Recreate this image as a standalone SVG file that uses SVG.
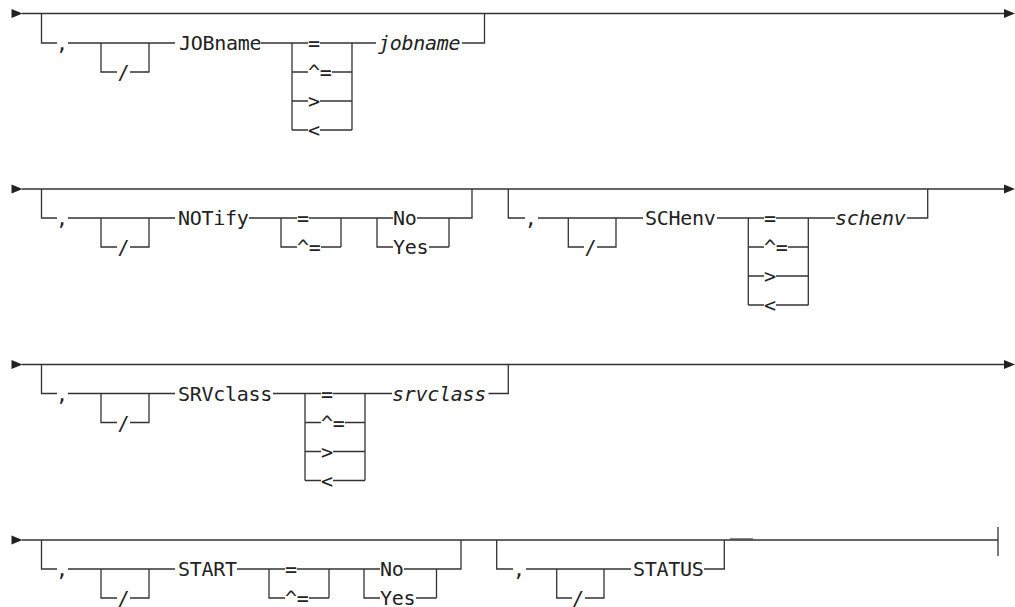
<svg xmlns="http://www.w3.org/2000/svg" width="1015" height="607" viewBox="0 0 1015 607">
<style>
.ln{fill:none;stroke:#333;stroke-width:1.3}
.ar{fill:#222}
.t{font-family:"DejaVu Sans Mono","Liberation Mono",monospace;font-size:20px;letter-spacing:-0.3px;fill:#222}
.i{font-style:italic}
.m{text-anchor:middle;letter-spacing:0}
</style>
<rect width="1015" height="607" fill="#fff"/>
<g id="connectors">
<polygon class="ar" points="11.5,9 22.5,13.5 11.5,18"/>
<path class="ln" d="M22,13.5H1004"/>
<polygon class="ar" points="1004,9 1015,13.5 1004,18"/>
<path class="ln" d="M41.5,13.5V43H57M68,43H175M101,43V72H117M130,72H149V43M261,43H308M320,43H376M462,43H484.5V13.5"/>
<path class="ln" d="M292,43V130M352,43V130M292,72H308M332,72H352M292,101H308M320,101H352M292,130H308M320,130H352"/>
<polygon class="ar" points="11.5,184.5 22.5,189 11.5,193.5"/>
<path class="ln" d="M22,189H1004"/>
<polygon class="ar" points="1004,184.5 1015,189 1004,193.5"/>
<path class="ln" d="M41.5,189V218H57M68,218H175M101,218V247H117M130,247H149V218M249,218H297M309,218H393M417,218H472V189"/>
<path class="ln" d="M281,218V247H297M321,247H341M341,218V247M377,218V247H393M429,247H449M449,218V247"/>
<path class="ln" d="M508.3,189V218H525M538,218H643M568.3,218V247H584M597,247H616V218M717,218H764M776,218H835M907,218H927.7V189"/>
<path class="ln" d="M748.3,218V305M808.3,218V305M748.3,247H764M788,247H808.3M748.3,276H764M776,276H808.3M748.3,305H764M776,305H808.3"/>
<polygon class="ar" points="11.5,360 22.5,364.5 11.5,369"/>
<path class="ln" d="M22,364.5H1004"/>
<polygon class="ar" points="1004,360 1015,364.5 1004,369"/>
<path class="ln" d="M41.5,364.5V393.5H57M68,393.5H175M101,393.5V422.5H117M130,422.5H149V393.5M273,393.5H321M333,393.5H392M488.5,393.5H508.3V364.5"/>
<path class="ln" d="M305,393.5V480.5M365,393.5V480.5M305,422.5H321M345,422.5H365M305,451.5H321M333,451.5H365M305,480.5H321M333,480.5H365"/>
<polygon class="ar" points="11.5,535.5 22.5,540 11.5,544.5"/>
<path class="ln" d="M22,540H998M998,527V556"/>
<path d="M730,539.3H753" fill="none" stroke="#555" stroke-width="2"/>
<path class="ln" d="M41.5,540V569H57M68,569H175M101,569V598H117M130,598H149V569M237,569H285M297,569H380M404,569H461V540"/>
<path class="ln" d="M269,569V598H285M309,598H329M329,569V598M364,569V598H380M416,598H436.5M436.5,569V598"/>
<path class="ln" d="M496.7,540V569H513M526,569H631M556.7,569V598H572M585,598H604V569M704,569H724.3V540"/>
</g>
<g id="r1-comma"><text class="t m" x="62" y="50.2">,</text></g>
<g id="r1-slash"><text class="t m" x="123.5" y="79.2">/</text></g>
<g id="r1-jobname-kw"><text class="t" x="179" y="50.2">JOBname</text></g>
<g id="r1-eq"><text class="t" x="308" y="50.2">=</text></g>
<g id="r1-ne"><text class="t" x="308" y="79.2">^=</text></g>
<g id="r1-gt"><text class="t" x="308" y="108.2">&gt;</text></g>
<g id="r1-lt"><text class="t" x="308" y="137.2">&lt;</text></g>
<g id="r1-jobname-var"><text class="t i" x="378" y="50.2">jobname</text></g>
<g id="r2-comma"><text class="t m" x="62" y="225.2">,</text></g>
<g id="r2-slash"><text class="t m" x="123.5" y="254.2">/</text></g>
<g id="r2-notify"><text class="t" x="178" y="225.2">NOTify</text></g>
<g id="r2-eq"><text class="t" x="297" y="225.2">=</text></g>
<g id="r2-ne"><text class="t" x="297" y="254.2">^=</text></g>
<g id="r2-no"><text class="t" x="393" y="225.2">No</text></g>
<g id="r2-yes"><text class="t" x="393" y="254.2">Yes</text></g>
<g id="r2-comma2"><text class="t m" x="530.7" y="225.2">,</text></g>
<g id="r2-slash2"><text class="t m" x="590.5" y="254.2">/</text></g>
<g id="r2-schenv-kw"><text class="t" x="645" y="225.2">SCHenv</text></g>
<g id="r2-eq2"><text class="t" x="764" y="225.2">=</text></g>
<g id="r2-ne2"><text class="t" x="764" y="254.2">^=</text></g>
<g id="r2-gt2"><text class="t" x="764" y="283.2">&gt;</text></g>
<g id="r2-lt2"><text class="t" x="764" y="312.2">&lt;</text></g>
<g id="r2-schenv-var"><text class="t i" x="835" y="225.2">schenv</text></g>
<g id="r3-comma"><text class="t m" x="62" y="400.7">,</text></g>
<g id="r3-slash"><text class="t m" x="123.5" y="429.7">/</text></g>
<g id="r3-srvclass-kw"><text class="t" x="178" y="400.7">SRVclass</text></g>
<g id="r3-eq"><text class="t" x="321" y="400.7">=</text></g>
<g id="r3-ne"><text class="t" x="321" y="429.7">^=</text></g>
<g id="r3-gt"><text class="t" x="321" y="458.7">&gt;</text></g>
<g id="r3-lt"><text class="t" x="321" y="487.7">&lt;</text></g>
<g id="r3-srvclass-var"><text class="t i" x="392" y="400.7">srvclass</text></g>
<g id="r4-comma"><text class="t m" x="62" y="576.2">,</text></g>
<g id="r4-slash"><text class="t m" x="123.5" y="605.2">/</text></g>
<g id="r4-start"><text class="t" x="178" y="576.2">START</text></g>
<g id="r4-eq"><text class="t" x="285" y="576.2">=</text></g>
<g id="r4-ne"><text class="t" x="285" y="605.2">^=</text></g>
<g id="r4-no"><text class="t" x="380" y="576.2">No</text></g>
<g id="r4-yes"><text class="t" x="380" y="605.2">Yes</text></g>
<g id="r4-comma2"><text class="t m" x="519" y="576.2">,</text></g>
<g id="r4-slash2"><text class="t m" x="578" y="605.2">/</text></g>
<g id="r4-status"><text class="t" x="633" y="576.2">STATUS</text></g>
</svg>
